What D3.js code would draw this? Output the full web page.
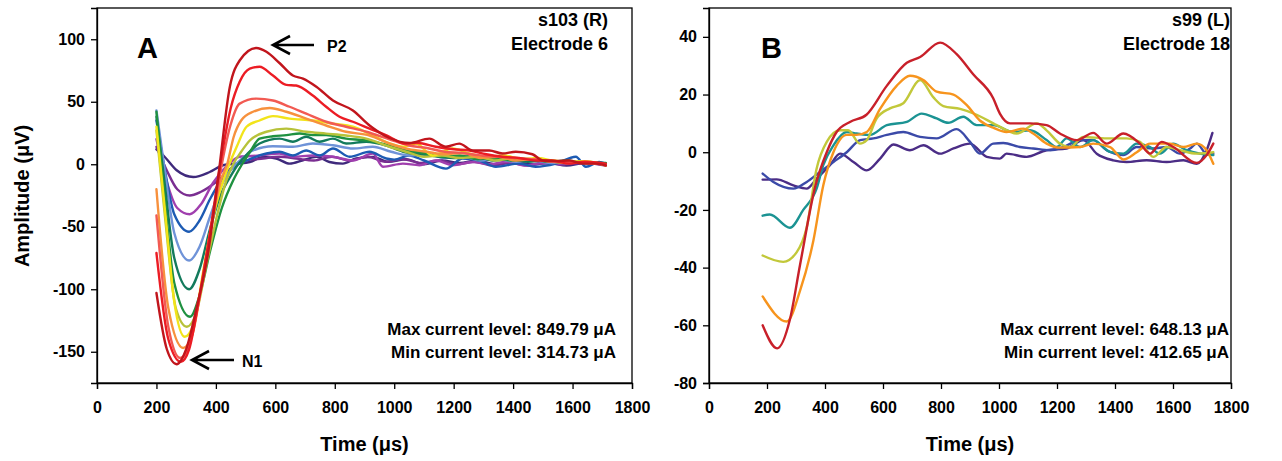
<!DOCTYPE html>
<html><head><meta charset="utf-8">
<script src="https://cdn.jsdelivr.net/npm/d3@7"></script>
<style>
body{margin:0;background:#fff}
svg text{font-family:"Liberation Sans",Arial,sans-serif;font-weight:bold;fill:#000}
</style>
</head><body>
<svg id="c" width="1282" height="461"></svg>
<script>
// ---------- shared axis data ----------
const timeTicks = [0,200,400,600,800,1000,1200,1400,1600,1800];
const ampTicksA = [-150,-100,-50,0,50,100];
const ampTicksB = [-80,-60,-40,-20,0,20,40];

// ---------- Panel A: s103 (R), Electrode 6 — [time µs, amplitude µV] ----------
const darkRedA = [[200,-103],[235,-148],[268,-160],[300,-148],[335,-115],[373,-72],[408,-10],[447,62],[480,83],[536,93],[570,90],[614,81],[659,71],[693,68.5],[738,62],[794,51],[861,43],[917,31],[984,21],[1051,17],[1118,20.5],[1174,14],[1219,16.5],[1264,11],[1320,11],[1364,8.6],[1409,10],[1465,8],[1499,3],[1544,2.6],[1589,3],[1634,0.5],[1678,0.5],[1712,-1]];
const redA = [[200,-71],[240,-140],[282,-158],[310,-148],[345,-105],[380,-55],[415,0],[450,45],[480,66],[514,76.5],[547,78],[592,71],[637,63.5],[670,63],[726,55],[771,46],[816,38],[861,34],[917,28.5],[984,22],[1031,16.6],[1080,17],[1140,14],[1200,12],[1253,11],[1310,8],[1364,6],[1420,5],[1476,3],[1530,3],[1589,0.5],[1640,2],[1712,0.5]];
const salmonA = [[200,-41],[240,-130],[280,-155],[310,-145],[350,-100],[385,-50],[420,0],[450,32],[480,48.5],[536,52.5],[592,51],[648,46],[704,40.5],[771,34],[838,30],[906,26],[984,20],[1050,15],[1110,13],[1170,10],[1230,9],[1290,7],[1350,6],[1410,5],[1470,4],[1530,2],[1590,2],[1650,1],[1712,0]];
const orangeA = [[200,-20],[240,-115],[290,-147],[320,-137],[355,-92],[390,-42],[418,-12],[438,0],[460,22],[485,35],[525,42],[581,45],[637,42],[704,36.5],[771,31],[838,26],[917,23],[984,16.6],[1050,12],[1110,10],[1170,8],[1230,9],[1290,5],[1350,6],[1410,3],[1470,4],[1530,2],[1590,1],[1650,2],[1712,-1]];
const yellowA = [[200,30],[230,-40],[260,-110],[295,-138],[325,-128],[360,-82],[395,-38],[425,-13],[445,0],[470,14],[503,30],[547,35],[592,38.5],[648,36.5],[726,35],[794,32.5],[861,30],[928,23],[984,16.6],[1030,14],[1073,16.6],[1129,7],[1196,12.6],[1253,8.6],[1310,6],[1370,7],[1430,4],[1480,5],[1533,3],[1589,1.8],[1640,2.5],[1712,-0.8]];
const oliveA = [[200,27],[230,-45],[265,-115],[302,-130],[335,-118],[370,-78],[405,-40],[435,-13],[458,0],[485,10],[514,19],[570,26],[637,28.5],[704,26],[771,24.5],[838,23],[906,20.5],[984,14],[1040,10],[1100,6],[1160,7],[1220,5],[1280,6],[1340,3],[1400,5],[1460,4],[1520,3],[1580,2],[1640,1],[1712,0]];
const greenA = [[200,42],[225,-20],[260,-95],[313,-122],[345,-105],[380,-70],[420,-35],[458,-13],[488,0],[515,10],[547,20.5],[592,22.4],[637,23.3],[682,24.6],[726,23.3],[771,23.3],[838,20.5],[906,19],[984,15],[1040,11],[1100,9],[1160,6],[1220,7],[1280,4],[1340,5],[1400,3],[1460,4],[1520,2],[1580,3],[1640,1],[1712,1]];
const tealA = [[200,38],[225,-10],[260,-75],[310,-100],[345,-84],[380,-52],[415,-25],[446,-11],[475,0],[505,8],[547,16.6],[614,20.5],[659,18],[704,22],[749,18],[794,20.5],[838,16.6],[906,18],[973,15],[1030,10],[1090,8],[1150,6],[1210,5],[1270,7],[1330,3],[1390,4],[1450,2],[1510,3],[1570,1],[1630,2],[1712,0]];
const lightBlueA = [[200,43],[225,0],[260,-55],[310,-77],[345,-66],[380,-42],[425,-14],[455,-3],[490,5],[525,11],[592,14.4],[659,14],[726,16.6],[794,15.2],[861,12.6],[928,14],[990,10],[1050,7],[1110,8],[1170,5],[1230,6],[1290,3],[1350,4],[1410,2],[1470,3],[1530,1],[1590,2],[1650,1],[1712,0]];
const blueA = [[200,35],[225,0],[260,-40],[310,-54],[345,-45],[380,-28],[420,-12],[460,-2],[503,3],[570,8.6],[614,10],[659,7],[704,11],[749,7],[794,12.6],[850,6],[917,10],[973,4.6],[1000,3.7],[1050,7],[1100,3],[1174,-3.5],[1230,4.6],[1286,3],[1342,-2],[1420,0.5],[1476,-2],[1544,0.5],[1611,6],[1645,-2],[1689,1.8],[1712,0.5]];
const magentaA = [[200,20],[230,-10],[270,-35],[312,-40],[350,-32],[390,-15],[430,-3],[480,6],[547,7],[614,8.6],[659,6],[726,7],[794,6],[861,3],[928,8.6],[962,-2],[1029,0.5],[1085,-0.8],[1141,3],[1197,-0.8],[1264,1.8],[1320,0],[1380,2],[1440,-1],[1500,1],[1560,0],[1620,2],[1712,0]];
const violetA = [[200,14],[235,-5],[270,-20],[312,-25],[350,-22],[402,-14],[458,-2],[503,3],[559,4.6],[614,6],[670,4.6],[730,3],[790,6],[850,3],[910,6],[970,2],[1030,4],[1090,1],[1150,3],[1210,0],[1270,2],[1330,-1],[1390,1],[1450,-1],[1510,1],[1570,0],[1640,1],[1712,-1]];
const indigoA = [[200,12],[228,5.8],[268,-4.8],[324,-10.2],[379,-6.2],[424,-0.8],[469,0.5],[514,1.8],[559,5.9],[603,4.6],[648,0.5],[693,3.2],[738,5.9],[782,1.8],[827,0.5],[872,4.6],[928,5.9],[980,2],[1040,4],[1100,0],[1160,3],[1220,1],[1280,3],[1340,0],[1400,2],[1460,0],[1520,1],[1580,-1],[1640,1],[1712,0]];

const seriesA = [indigoA, violetA, magentaA, blueA, lightBlueA, tealA, greenA, oliveA, yellowA, orangeA, salmonA, redA, darkRedA];
const colorsA = ["#3f2a7c","#7a2e91","#a03fae","#1d5bb3","#6f93d8","#137a5c","#1f9140","#b7c23a","#f2e41a","#f7913d","#f25a52","#ec1c24","#c1151c"];

// ---------- Panel B: s99 (L), Electrode 18 ----------
const redB = [[185,-60],[235,-68],[279,-58],[314,-39],[366,-12],[406,0],[440,7],[486,10.5],[543,13],[613,23],[682,31],[728,33],[797,38],[854,34],[911,27],[980,18.7],[1003,13.4],[1038,10],[1107,10],[1164,9.4],[1210,6.5],[1268,4.2],[1325,6.7],[1371,3],[1429,6.5],[1486,3],[1521,-0.5],[1561,3.6],[1601,1.8],[1682,-3.7],[1716,-1],[1739,3]];
const orangeB = [[185,-50],[268,-58.7],[314,-48],[360,-30.6],[394,-11.5],[429,0],[475,6],[509,6],[544,7],[590,15],[647,23],[693,26.5],[739,25],[785,21],[843,20],[889,16.3],[934,11],[980,8.5],[1026,7],[1084,8.2],[1118,6.5],[1164,3],[1210,1.6],[1279,1.8],[1325,3],[1383,1.8],[1429,-2.5],[1475,0],[1521,3],[1590,3],[1636,1.8],[1682,3],[1716,0.7],[1739,-4]];
const oliveB = [[185,-35.8],[256,-38],[302,-34.7],[337,-26],[371,-5.7],[406,3.6],[452,7.6],[480,7.6],[520,3],[544,4.2],[578,11.7],[624,15.2],[670,17],[728,25],[774,19],[808,16],[866,15],[923,13],[992,9.4],[1061,6.5],[1130,10],[1164,7.6],[1210,3],[1245,1.8],[1291,5.3],[1371,4.8],[1440,4.8],[1486,3.6],[1532,-1.6],[1578,1.8],[1624,0.7],[1682,-0.5],[1739,0]];
const tealB = [[185,-22],[210,-21.6],[279,-26.2],[325,-20],[371,-12.6],[394,-4.5],[429,2.4],[475,7],[509,6.5],[555,6],[613,9.4],[682,10.5],[733,13.4],[785,11.7],[825,10.2],[877,12.3],[923,9.4],[980,9.4],[1049,7],[1107,7.6],[1164,4.2],[1199,1.8],[1233,4.8],[1279,1.8],[1325,4.2],[1383,0.1],[1429,-0.5],[1475,3],[1521,1.8],[1555,-0.5],[1601,3],[1647,0.7],[1693,-0.5],[1739,-1]];
const blueB = [[185,-7.4],[222,-10.3],[291,-12.6],[337,-10.3],[383,-6.8],[429,-3.4],[475,0],[521,4.2],[567,4.8],[613,6],[670,7],[728,5.3],[785,4.8],[854,8],[900,3.6],[934,-0.5],[980,3],[1015,3.2],[1072,1.8],[1118,1.3],[1176,0.7],[1222,1.8],[1279,4.2],[1325,4.2],[1371,0.7],[1429,-1],[1475,1.8],[1532,1.3],[1578,1.8],[1624,-0.5],[1659,1.3],[1682,3],[1716,-0.5],[1739,-0.5]];
const indigoB = [[185,-9.5],[233,-9.4],[291,-11.5],[337,-12.6],[371,-9.2],[417,-4.5],[452,-0.5],[498,-3.4],[544,-6.3],[590,-2.2],[636,2.7],[693,0.7],[739,2.4],[797,-0.5],[843,1.3],[900,3],[958,-1.6],[1003,-2.2],[1026,-0.5],[1095,-1.6],[1164,0.7],[1233,1.3],[1291,4.2],[1337,-0.5],[1394,-2.8],[1440,-3.4],[1509,-2.8],[1578,-3.4],[1636,-2.8],[1682,-4],[1716,0.7],[1736,6.7]];

const seriesB = [indigoB, blueB, tealB, oliveB, orangeB, redB];
const colorsB = ["#4b2d86","#3b4aa8","#1b9393","#c2c83a","#f7941d","#c8202a"];

// ---------- drawing ----------
const svg = d3.select("#c");
const TOP = 8, BOT = 383;

function panel(o){
  const x = d3.scaleLinear().domain([0,1800]).range([o.x0,o.x1]);
  const y = d3.scaleLinear().domain(o.yDom).range([BOT,TOP]);
  const g = svg.append("g");

  const line = d3.line().x(d=>x(d[0])).y(d=>y(d[1])).curve(d3.curveMonotoneX);
  g.selectAll("path.s").data(o.series).join("path")
    .attr("class","s").attr("d",line).attr("fill","none")
    .attr("stroke",(d,i)=>o.colors[i]).attr("stroke-width",2.4)
    .attr("stroke-linejoin","round").attr("stroke-linecap","round");

  g.append("rect").attr("x",o.x0).attr("y",TOP).attr("width",o.x1-o.x0).attr("height",BOT-TOP)
    .attr("fill","none").attr("stroke","#000").attr("stroke-width",1.3);

  const xa = g.append("g").attr("transform",`translate(0,${BOT})`)
    .call(d3.axisBottom(x).tickValues(timeTicks).tickSize(6).tickFormat(String));
  const ya = g.append("g").attr("transform",`translate(${o.x0},0)`)
    .call(d3.axisLeft(y).tickValues(o.yTicks).tickSize(6).tickPadding(6).tickFormat(String));
  [xa,ya].forEach(a=>{
    a.select(".domain").attr("stroke","#000").attr("stroke-width",1.3);
    a.selectAll(".tick line").attr("stroke","#000").attr("stroke-width",1.3);
    a.selectAll("text").style("font-size","16px").style("font-family","'Liberation Sans',Arial,sans-serif").style("font-weight","bold");
  });
  xa.selectAll("text").attr("dy",null).attr("y",30);

  g.append("text").attr("x",(o.x0+o.x1)/2).attr("y",451).attr("text-anchor","middle")
    .style("font-size","20px").text("Time (μs)");

  g.append("text").attr("x",o.letterX).attr("y",58).style("font-size","29px").text(o.letter);
  g.append("text").attr("x",o.infoX).attr("y",26).attr("text-anchor","end").style("font-size","18px").text(o.info1);
  g.append("text").attr("x",o.infoX).attr("y",50).attr("text-anchor","end").style("font-size","18px").text(o.info2);
  g.append("text").attr("x",o.curX).attr("y",335).attr("text-anchor","end").style("font-size","17px").text(o.cur1);
  g.append("text").attr("x",o.curX).attr("y",358).attr("text-anchor","end").style("font-size","17px").text(o.cur2);
  return g;
}

panel({x0:97,x1:632,yDom:[-175,125],yTicks:ampTicksA,series:seriesA,colors:colorsA,
  letter:"A",letterX:137,info1:"s103 (R)",info2:"Electrode 6",infoX:608,
  cur1:"Max current level: 849.79 μA",cur2:"Min current level: 314.73 μA",curX:616});
panel({x0:709,x1:1231,yDom:[-80,50],yTicks:ampTicksB,series:seriesB,colors:colorsB,
  letter:"B",letterX:761,info1:"s99 (L)",info2:"Electrode 18",infoX:1230,
  cur1:"Max current level: 648.13 μA",cur2:"Min current level: 412.65  μA",curX:1229});

// y-axis title
svg.append("text").attr("transform","translate(29,196) rotate(-90)").attr("text-anchor","middle")
  .style("font-size","20px").text("Amplitude (μV)");

// annotation arrows (P2, N1)
function arrow(tipX,tipY,tailX,label,labelX){
  svg.append("path").attr("d",`M${tipX+17},${tipY-9}L${tipX},${tipY}L${tipX+17},${tipY+9}M${tipX},${tipY}L${tailX},${tipY}`)
    .attr("fill","none").attr("stroke","#000").attr("stroke-width",2.6);
  svg.append("text").attr("x",labelX).attr("y",tipY+7).style("font-size","16px").text(label);
}
arrow(273,45,314,"P2",327);
arrow(192,360,234,"N1",242);
</script>
</body></html>
